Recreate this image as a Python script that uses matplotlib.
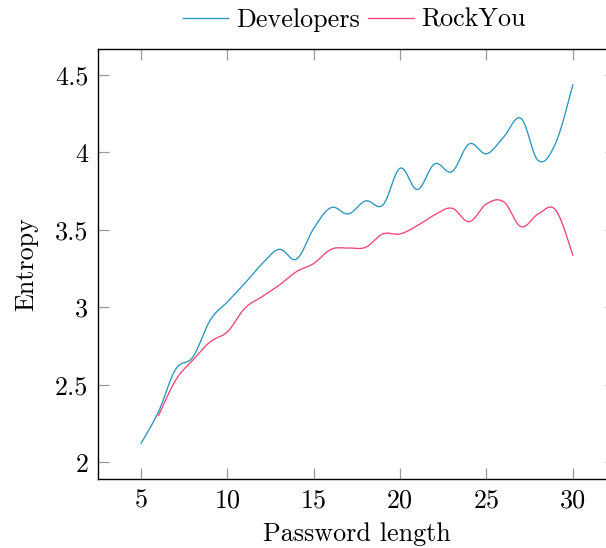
import numpy as np
import matplotlib
matplotlib.use("Agg")
import matplotlib.pyplot as plt

dev_len = [5, 6, 7, 8, 9, 10, 11, 12, 13, 14, 15, 16, 17, 18, 19, 20, 21, 22, 23, 24, 25, 26, 27, 28, 29, 30]
dev_entropy = [2.123, 2.325, 2.60, 2.68, 2.917, 3.035, 3.154, 3.28, 3.374, 3.311, 3.51, 3.643, 3.602,
               3.686, 3.66, 3.897, 3.76, 3.925, 3.875, 4.054, 3.99, 4.10, 4.218, 3.946, 4.058, 4.435]
rock_len = [6, 7, 8, 9, 10, 11, 12, 13, 14, 15, 16, 17, 18, 19, 20, 21, 22, 23, 24, 25, 26, 27, 28, 29, 30]
rock_entropy = [2.30, 2.53, 2.66, 2.777, 2.842, 2.993, 3.068, 3.143, 3.23, 3.283, 3.374, 3.382, 3.387,
                3.473, 3.473, 3.527, 3.596, 3.639, 3.552, 3.667, 3.68, 3.52, 3.602, 3.628, 3.337]

x_ticks = [5, 10, 15, 20, 25, 30]
y_ticks = [2, 2.5, 3, 3.5, 4, 4.5]
y_tick_labels = ["2", "2.5", "3", "3.5", "4", "4.5"]


# Сглаживание как в pgfplots (кривые Безье)
def smooth(xs, ys, tension=0.18, n=30):
    p = np.column_stack([xs, ys]).astype(float)
    out = [p[0]]
    for i in range(len(p) - 1):
        prev = p[i - 1] if i > 0 else p[i]
        nxt = p[i + 2] if i + 2 < len(p) else p[i + 1]
        c1 = p[i] + tension * (p[i + 1] - prev)
        c2 = p[i + 1] - tension * (nxt - p[i])
        t = np.linspace(0, 1, n)[1:, None]
        seg = ((1 - t) ** 3 * p[i] + 3 * (1 - t) ** 2 * t * c1
               + 3 * (1 - t) * t ** 2 * c2 + t ** 3 * p[i + 1])
        out.extend(seg)
    out = np.array(out)
    return out[:, 0], out[:, 1]


plt.rcParams['font.family'] = ['cmr10', 'DejaVu Serif']
plt.rcParams['mathtext.fontset'] = 'cm'
plt.rcParams['axes.unicode_minus'] = False

fs = 18.8
fig = plt.figure(figsize=(6.06, 5.48), dpi=100)
ax = fig.add_axes([98 / 606, 1 - 479 / 548, 518 / 606, 430 / 548])

dx, dy = smooth(dev_len, dev_entropy)
rx, ry = smooth(rock_len, rock_entropy)
ax.plot(dx, dy, color='#2a96bf', lw=0.95, label='Developers')
ax.plot(rx, ry, color='#ee4576', lw=0.95, label='RockYou')

# границы как enlargelimits в pgfplots
lo = min(min(dev_entropy), min(rock_entropy))
hi = max(max(dev_entropy), max(rock_entropy))
pad = 0.1 * (hi - lo)
ax.set_ylim(lo - pad, hi + pad)
ax.set_xlim(2.5, 32.5)

ax.set_xticks(x_ticks)
ax.set_xticklabels([str(v) for v in x_ticks])
ax.set_yticks(y_ticks)
ax.set_yticklabels(y_tick_labels)
ax.tick_params(direction='in', length=8, width=0.9, color='#9a9a9a',
               top=True, right=True, labelsize=fs, pad=7)
for s in ax.spines.values():
    s.set_linewidth(1.0)

ax.set_xlabel('Password length', fontsize=fs, labelpad=7)
ax.set_ylabel('Entropy', fontsize=fs, labelpad=12)

ax.legend(loc='lower center', bbox_to_anchor=(0.495, 1.01), ncol=2, frameon=False,
          fontsize=fs, handlelength=1.75, handletextpad=0.3, columnspacing=0.3,
          borderaxespad=0.1)

fig.savefig('out.png', dpi=100)
